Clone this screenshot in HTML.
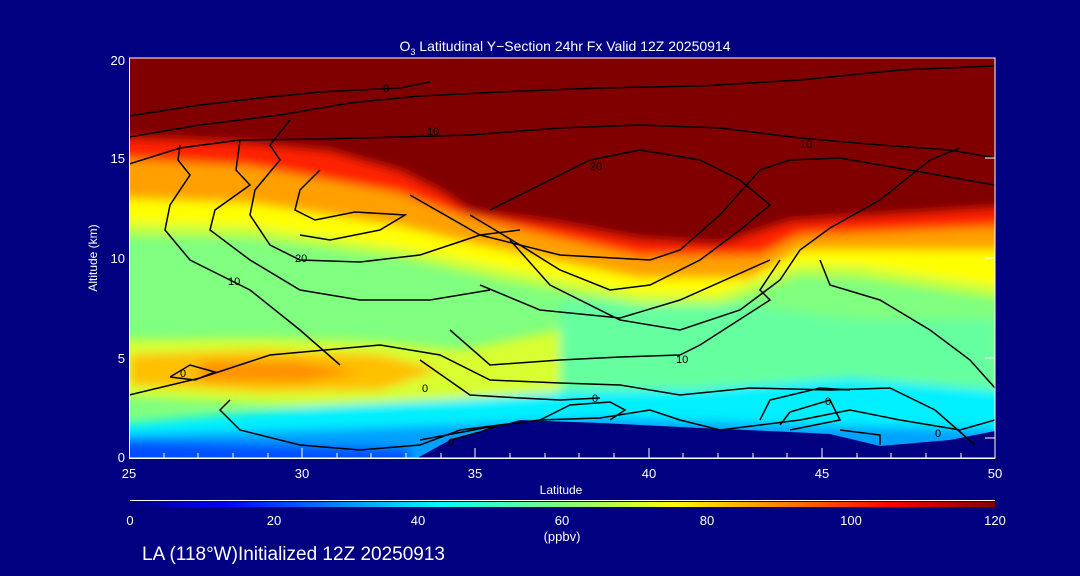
<!DOCTYPE html>
<html><head><style>
body{margin:0;background:#000080;}
svg{display:block;font-family:"Liberation Sans","DejaVu Sans",sans-serif;}
</style></head><body>
<svg width="1080" height="576" viewBox="0 0 1080 576">
<defs>
<clipPath id="c"><rect x="129" y="58" width="866" height="400"/></clipPath>
<filter id="b" x="-10%" y="-10%" width="120%" height="120%"><feGaussianBlur stdDeviation="5"/></filter>
<linearGradient id="cb" x1="0" x2="1">
<stop offset="0" stop-color="#000080"/><stop offset="0.11" stop-color="#0000ff"/>
<stop offset="0.36" stop-color="#00ffff"/><stop offset="0.5" stop-color="#80ff80"/>
<stop offset="0.63" stop-color="#ffff00"/><stop offset="0.88" stop-color="#ff0000"/>
<stop offset="1" stop-color="#800000"/></linearGradient>
</defs>
<rect width="1080" height="576" fill="#000080"/>
<g clip-path="url(#c)">
<rect x="129" y="58" width="866" height="400" fill="#80ff80"/>
<g filter="url(#b)">
<polygon points="560,300 700,300 860,320 995,320 995,400 560,400" fill="#66ffa0"/>
<polygon points="110,340 260,338 380,342 460,350 560,330 560,395 420,400 300,405 200,400 110,395" fill="#d8ff30"/>
<polygon points="130,355 260,350 380,355 440,370 380,390 260,392 130,385" fill="#ffc000"/>
<polygon points="200,362 300,362 360,372 300,382 200,380" fill="#ff9000"/>
<polygon points="110,40 1010,40 1010,300 860,278 800,275 720,305 640,305 500,280 400,258 250,238 110,235" fill="#c8ff40"/>
<polygon points="110,40 1010,40 1010,288 860,266 800,264 720,294 640,294 500,268 400,248 250,226 110,222" fill="#ffff00"/>
<polygon points="110,40 1010,40 1010,250 800,250 750,278 640,278 470,243 400,226 250,203 110,198" fill="#ffa000"/>
<polygon points="110,40 1010,40 1010,226 800,235 760,255 640,256 460,215 400,193 250,166 110,158" fill="#ff2000"/>
<polygon points="110,40 1010,40 1010,208 790,222 720,245 640,240 560,225 470,212 440,192 400,172 330,152 240,143 110,138" fill="#800000"/>
<polygon points="110,425 300,408 450,400 560,392 700,390 850,378 1010,392 1010,470 110,470" fill="#00f0ff"/>
<polygon points="110,435 300,430 450,425 600,418 800,425 1010,430 1010,470 110,470" fill="#00a0ff"/>
<polygon points="110,440 410,448 410,470 110,470" fill="#0050ff"/>
</g>
<polygon points="410,462 450,440 520,420 600,423 700,428 790,432 830,434 880,446 950,440 1000,430 1000,462" fill="#000080"/>
<g fill="none" stroke="#000" stroke-width="1.5">
<polyline points="129,137 200,125 280,115 350,103 420,96 500,92 600,88 700,86 800,80 900,70 995,66"/>
<polyline points="129,116 200,105 260,98 320,92 400,88 430,82"/>
<polyline points="129,164 180,148 240,140 320,139 400,137 470,135 560,128 640,125 720,128 800,138 880,145 950,150 995,158"/>
<polyline points="180,145 178,160 190,175 170,205 165,230 190,260 250,290 300,330 340,365"/>
<polyline points="240,140 236,170 250,185 215,210 210,230 250,260 300,290 360,300 430,300 490,290"/>
<polyline points="290,120 270,145 280,160 255,190 250,215 270,245 300,260 360,262 420,255 480,235 520,230"/>
<polyline points="320,170 300,190 295,210 315,220 355,212 405,215 380,230 330,240 300,235"/>
<polyline points="470,215 520,245 560,270 610,290 650,285 700,260 740,230 770,205 740,180 700,160 640,150 590,160 540,185 490,210"/>
<polyline points="510,240 550,285 620,320 680,330 740,310 780,280 800,250 830,228 880,200 930,160 960,148"/>
<polyline points="410,195 480,235 560,255 650,260 680,250 720,215 760,170 790,160 840,158 995,185"/>
<polyline points="820,260 830,285 880,300 930,330 970,360 995,388"/>
<polyline points="480,285 540,310 620,318 680,300 770,260"/>
<polyline points="450,330 490,365 560,360 620,357 680,355 700,345 770,300 760,290 780,260"/>
<polyline points="129,395 200,378 270,355 380,345 440,355 490,380 560,383 620,385 680,395 750,388 830,390 890,388 935,410 975,445"/>
<polyline points="170,377 190,365 215,372 195,380 170,377"/>
<polyline points="420,360 470,395 520,398 560,400 600,398"/>
<polyline points="230,400 220,410 240,430 300,445 360,450 420,445 460,430 540,420 600,418 650,410 680,420 720,430 800,420 850,410 900,420 960,430 995,420"/>
<polyline points="540,420 570,405 610,402 625,410 610,420"/>
<polyline points="760,420 770,400 820,388 850,390"/>
<polyline points="780,425 790,412 830,400 840,420 790,430"/>
<polyline points="840,430 880,435 880,445"/>
<polyline points="450,440 480,432 500,425 420,440"/>
</g>
<g fill="#000" font-size="11">
<text x="383" y="92">0</text><text x="427" y="135">10</text><text x="800" y="148">10</text>
<text x="590" y="170">20</text><text x="295" y="262">20</text><text x="228" y="285">10</text>
<text x="676" y="363">10</text><text x="180" y="377">0</text><text x="422" y="392">0</text>
<text x="592" y="402">0</text><text x="825" y="405">0</text><text x="935" y="437">0</text><text x="448" y="446">0</text>
</g>
</g>
<g stroke="#fff" stroke-width="1" fill="none">
<path d="M129,58H995V458H129"/>
<path d="M129.5,58V458"/>
</g>
<g stroke="#fff" stroke-width="1">
<path d="M129,458.5H995"/>
<path d="M302,458v-10M475,458v-10M649,458v-10M822,458v-10M995,458v-10"/>
<path d="M164,458v-5M198,458v-5M233,458v-5M268,458v-5M337,458v-5M371,458v-5M406,458v-5M441,458v-5M510,458v-5M545,458v-5M579,458v-5M614,458v-5M683,458v-5M718,458v-5M753,458v-5M787,458v-5M857,458v-5M891,458v-5M926,458v-5M961,458v-5"/>
<path d="M995,438h-10M995,358h-10M995,258h-10M995,158h-10"/>
</g>
<g fill="#fff" font-size="13">
<text x="565" y="51" text-anchor="middle" font-size="14">O<tspan font-size="9" dy="4">3</tspan><tspan dy="-4"> Latitudinal Y−Section 24hr  Fx Valid 12Z 20250914</tspan></text>
<text x="125" y="65" text-anchor="end">20</text><text x="125" y="163" text-anchor="end">15</text>
<text x="125" y="263" text-anchor="end">10</text><text x="125" y="363" text-anchor="end">5</text><text x="125" y="462" text-anchor="end">0</text>
<text x="129" y="478" text-anchor="middle">25</text><text x="302" y="478" text-anchor="middle">30</text>
<text x="475" y="478" text-anchor="middle">35</text><text x="649" y="478" text-anchor="middle">40</text>
<text x="822" y="478" text-anchor="middle">45</text><text x="995" y="478" text-anchor="middle">50</text>
<text x="561" y="494" text-anchor="middle" font-size="12">Latitude</text>
<text transform="translate(97,258) rotate(-90)" text-anchor="middle" font-size="12">Altitude (km)</text>
<text x="130" y="525" text-anchor="middle">0</text><text x="274" y="525" text-anchor="middle">20</text>
<text x="418" y="525" text-anchor="middle">40</text><text x="562" y="525" text-anchor="middle">60</text>
<text x="707" y="525" text-anchor="middle">80</text><text x="851" y="525" text-anchor="middle">100</text>
<text x="995" y="525" text-anchor="middle">120</text>
<text x="562" y="541" text-anchor="middle">(ppbv)</text>
<text x="142" y="560" font-size="19">LA (118°W)Initialized 12Z 20250913</text>
</g>
<rect x="130" y="500" width="865" height="1" fill="#fff"/>
<rect x="130" y="502" width="865" height="5" fill="url(#cb)"/>
</svg>
</body></html>
